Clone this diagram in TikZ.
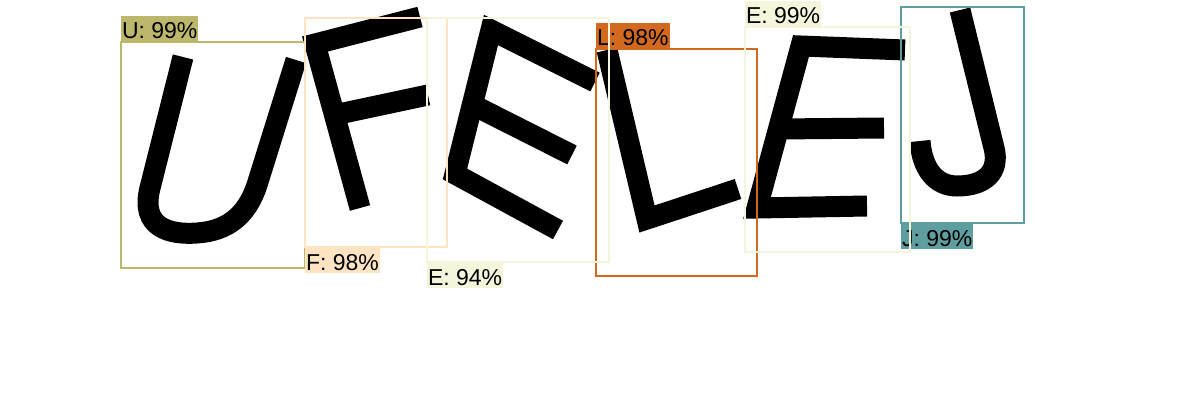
\documentclass[tikz,border=0pt]{standalone}
\usepackage{fontspec}
\setmainfont{Liberation Sans}
\usetikzlibrary{positioning}

\definecolor{khaki}{HTML}{BDB76B}
\definecolor{bisque}{HTML}{FFE4C4}
\definecolor{beige}{HTML}{F5F5DC}
\definecolor{choco}{HTML}{D2691E}
\definecolor{cadet}{HTML}{5F9EA0}

\begin{document}
\begin{tikzpicture}[x=1pt,y=-1pt,
        glyph/.style={line width=21pt,line join=miter},
        detbox/.style={draw=#1,line width=2pt,inner sep=0pt,outer sep=0pt,anchor=north west},
        tag/.style={fill=#1,inner xsep=1pt,inner ysep=0pt,outer sep=0pt,
          text height=23pt,text depth=3pt,font=\fontsize{23}{26}\selectfont}]

  \fill[white] (0,0) rectangle (1200,420);
  \useasboundingbox (0,0) rectangle (1200,420);

  % the letters
  \draw[glyph] (183,57) -- (150,188) .. controls (140,228) and (170,235) .. (197,233)
               .. controls (228,231) and (247,215) .. (257,185) -- (296,60);
  \draw[glyph] (420,17) -- (315,44) -- (360,208);
  \draw[glyph] (334,115) -- (428,95);
  \draw[glyph] (595,82) -- (491,30) -- (455,174) -- (558,230);
  \draw[glyph] (471,104) -- (572,155);
  \draw[glyph] (607,50) -- (647,219) -- (738,189);
  \draw[glyph] (905,50) -- (801,46) -- (757,208) -- (867,206);
  \draw[glyph] (779,129) -- (884,128);
  \draw[glyph] (960,10) -- (994,148) .. controls (1000,172) and (985,186) .. (957,186)
               .. controls (935,186) and (922,168) .. (920,141);

  % boxes and their tags
  \node[detbox=khaki,minimum width=184,minimum height=226] (boxU) at (121,42) {};
  \node[tag=khaki,anchor=south west] (tagU) at (boxU.north west) {U: 99\%};

  \node[detbox=bisque,minimum width=142,minimum height=229] (boxF) at (305,18) {};
  \node[tag=bisque,anchor=north west] (tagF) at (boxF.south west) {F: 98\%};

  \node[detbox=choco,minimum width=161,minimum height=227] (boxL) at (596,49) {};
  \node[tag=choco,anchor=south west] (tagL) at (boxL.north west) {L: 98\%};

  \node[detbox=cadet,minimum width=123,minimum height=216] (boxJ) at (901,7) {};
  \node[tag=cadet,anchor=north west] (tagJ) at (boxJ.south west) {J: 99\%};

  \node[detbox=beige,minimum width=182,minimum height=244] (boxEa) at (427,18) {};
  \node[tag=beige,anchor=north west] (tagEa) at (boxEa.south west) {E: 94\%};

  \node[detbox=beige,minimum width=165,minimum height=225] (boxEb) at (745,27) {};
  \node[tag=beige,anchor=south west] (tagEb) at (boxEb.north west) {E: 99\%};

\end{tikzpicture}
\end{document}
